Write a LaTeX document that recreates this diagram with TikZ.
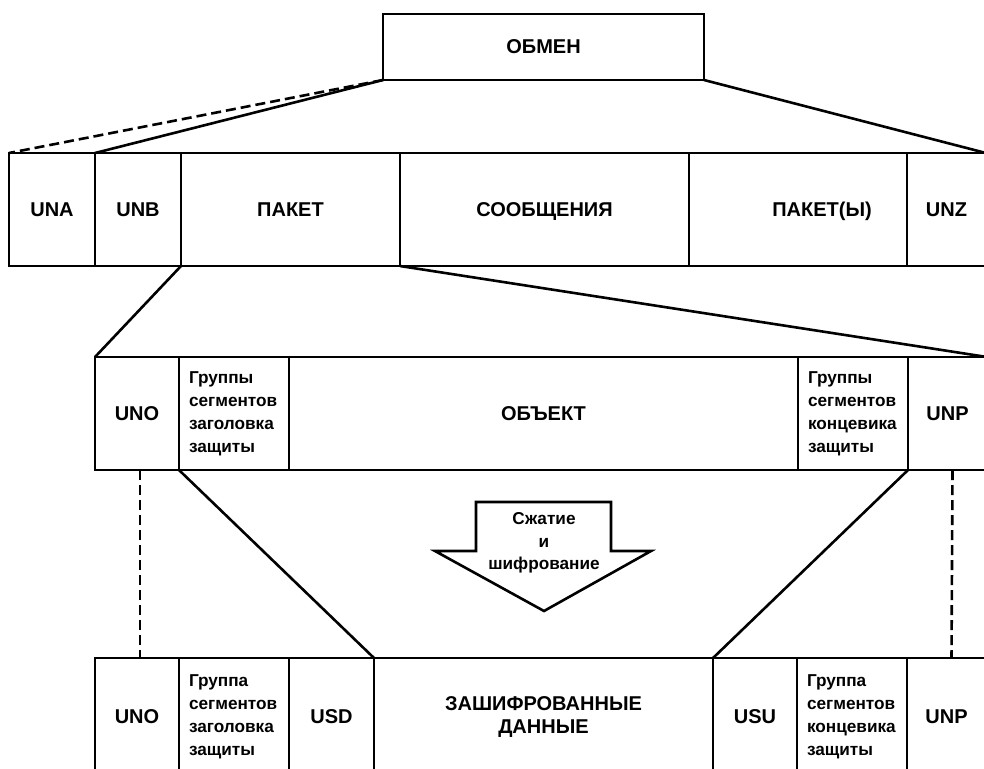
\documentclass[tikz,border=0pt]{standalone}
\usepackage{fontspec}
\setmainfont{Liberation Sans}
\usetikzlibrary{positioning}

\begin{document}
\begin{tikzpicture}[x=0.5pt, y=-0.5pt
    , every node/.style={outer sep=0pt}
    , cell/.style={draw, line width=1.3pt, inner sep=0pt, anchor=north west
        , font=\bfseries\fontsize{10}{11.5}\selectfont, align=center}
    , top/.style={cell, minimum height=56.5pt, text height=7.3pt, text depth=0pt}
    , mid/.style={cell, minimum height=56.5pt}
    , low/.style={cell, minimum height=59pt}
    , grp/.style={font=\bfseries\fontsize{8.6}{11.5}\selectfont, align=left
        , text width=45pt, inner xsep=5pt}
    , link/.style={line width=1.3pt}
    , dashlink/.style={line width=1.3pt, dash pattern=on 5pt off 2.5pt}
    ]

    \useasboundingbox (0,0) rectangle (984,768);
    \clip (0,0) rectangle (984,768);

    \node[cell, minimum width=160.5pt, minimum height=33pt] (obmen) at (383,14) {ОБМЕН};

    % Interchange
    \node[top, minimum width=43pt] (una) at (9,153) {UNA};
    \node[top, minimum width=43pt, right=0pt of una] (unb) {UNB};
    \node[top, minimum width=109.5pt, right=0pt of unb] (paket) {ПАКЕТ};
    \node[top, minimum width=144.5pt, right=0pt of paket] (msgs) {СООБЩЕНИЯ};
    \node[top, minimum width=109pt, right=0pt of msgs] (pakety) {\hspace*{24pt}ПАКЕТ(Ы)};
    \node[top, minimum width=39.5pt, right=0pt of pakety] (unz) {UNZ};

    \draw[dashlink] (obmen.south west) -- (una.north west);
    \draw[link] (obmen.south west) -- (unb.north west);
    \draw[link] (obmen.south east) -- (unz.north east);

    % Package with security groups
    \node[mid, minimum width=42pt] (uno) at (95,357) {UNO};
    \node[mid, grp, right=0pt of uno] (hdr) {Группы\\сегментов\\заголовка\\защиты};
    \node[mid, minimum width=254.5pt, right=0pt of hdr] (obj) {ОБЪЕКТ};
    \node[mid, grp, right=0pt of obj] (trl) {Группы\\сегментов\\концевика\\защиты};
    \node[mid, minimum width=39.5pt, right=0pt of trl] (unp) {UNP};

    \draw[link] (paket.south west) -- (uno.north west);
    \draw[link] (msgs.south west) -- (unp.north east);

    %% Compressed and encrypted
    \node[low, minimum width=42pt] (unob) at (95,658) {UNO};
    \node[low, grp, right=0pt of unob] (hdrb) {Группа\\сегментов\\заголовка\\защиты};
    \node[low, minimum width=42.5pt, right=0pt of hdrb] (usd) {USD};
    \node[low, minimum width=169.5pt, right=0pt of usd] (data) {ЗАШИФРОВАННЫЕ\\ДАННЫЕ};
    \node[low, minimum width=42pt, right=0pt of data] (usu) {USU};
    \node[low, grp, right=0pt of usu] (trlb) {Группа\\сегментов\\концевика\\защиты};
    \node[low, minimum width=39.5pt, right=0pt of trlb] (unpb) {UNP};

    \draw[dashlink] ([xshift=1.5pt]uno.south) -- ([xshift=1.5pt]unob.north);
    \draw[dashlink] ([xshift=2.5pt]unp.south) -- ([xshift=2.5pt]unpb.north);
    \draw[link] (hdr.south west) -- (data.north west);
    \draw[link] (trl.south east) -- (data.north east);

    % big arrow
    \draw[link, line join=miter] (476,502) -- (611,502) -- (611,551) -- (651,551)
        -- (544,611) -- (435,551) -- (476,551) -- cycle;
    \node[align=center, font=\bfseries\fontsize{8.6}{11.25}\selectfont] (squeeze) at (544,543)
        {Сжатие\\и\\шифрование};

\end{tikzpicture}
\end{document}
